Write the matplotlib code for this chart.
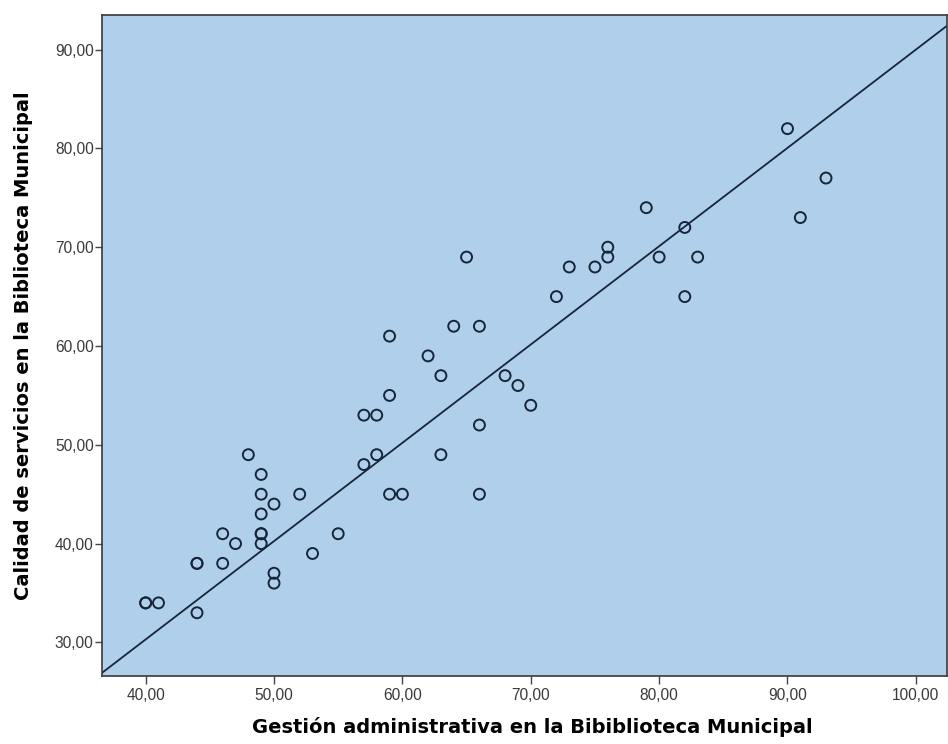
import matplotlib
matplotlib.use("Agg")
import matplotlib.pyplot as plt
from matplotlib.ticker import FuncFormatter

# Gestión administrativa (x) vs Calidad de servicios (y)
gestion = [48, 49, 49, 50, 49, 52, 49, 49, 49, 46, 47, 55, 44, 44, 46, 53, 50, 50, 40, 40, 41, 44,
           72, 59, 64, 66, 62, 63, 68, 69, 70, 59, 57, 58, 66, 58, 57, 63, 59, 60, 66, 65,
           90, 93, 91, 79, 82, 76, 76, 73, 75, 80, 83, 82]
calidad = [49, 47, 45, 44, 43, 45, 41, 41, 40, 41, 40, 41, 38, 38, 38, 39, 37, 36, 34, 34, 34, 33,
           65, 61, 62, 62, 59, 57, 57, 56, 54, 55, 53, 53, 52, 49, 48, 49, 45, 45, 45, 69,
           82, 77, 73, 74, 72, 70, 69, 68, 68, 69, 69, 65]

# fit line
fit_slope = 0.995
fit_intercept = -9.5

x_ticks = [40, 50, 60, 70, 80, 90, 100]
y_ticks = [30, 40, 50, 60, 70, 80, 90]

plt.rcParams['font.family'] = ['Liberation Sans', 'DejaVu Sans']

fig = plt.figure(figsize=(9.48, 7.44), dpi=100)
ax = fig.add_axes([0.1076, 0.0914, 0.891, 0.8884])
ax.set_facecolor('#AFCFEB')

ax.scatter(gestion, calidad, s=62, facecolors='none', edgecolors='#17243a', linewidths=1.4, zorder=3)
ax.axline((0, fit_intercept), slope=fit_slope, color='#17243a', linewidth=1.3, zorder=2)

ax.set_xlim(36.6, 102.4)
ax.set_ylim(26.6, 93.5)
ax.set_xticks(x_ticks)
ax.set_yticks(y_ticks)
fmt = FuncFormatter(lambda v, p: f"{v:.2f}".replace('.', ','))
ax.xaxis.set_major_formatter(fmt)
ax.yaxis.set_major_formatter(fmt)
ax.tick_params(width=1, color='#444444', labelsize=11.2, labelcolor='#3a3a3a')
ax.tick_params(axis='x', length=6, pad=3)
ax.tick_params(axis='y', length=5, pad=1)

for s in ax.spines.values():
    s.set_color('#3a3a3a')
    s.set_linewidth(1.2)

ax.set_xlabel('Gestión administrativa en la Bibiblioteca Municipal', family='DejaVu Sans',
              fontsize=14, fontweight='bold', labelpad=10)
ax.xaxis.label.set_x(0.509)
ax.set_ylabel('Calidad de servicios en la Biblioteca Municipal', family='DejaVu Sans',
              fontsize=14, fontweight='bold', labelpad=16)

fig.savefig('out.png', dpi=100)
